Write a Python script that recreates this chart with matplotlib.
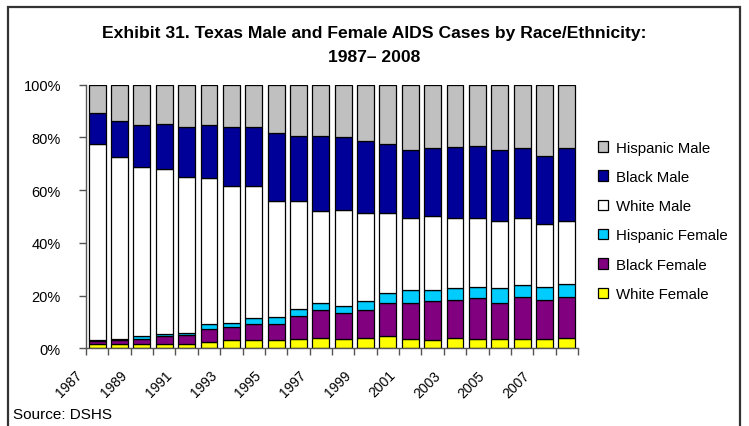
import numpy as np
import matplotlib
matplotlib.use('Agg')
import matplotlib.pyplot as plt
import matplotlib.transforms as mtransforms
from matplotlib.patches import Rectangle

plt.rcParams['font.family'] = ['Liberation Sans', 'DejaVu Sans']

# years 1987-2008
years = list(range(1987, 2009))

# percent of cases per year
white_female = [1.5, 1.5, 1.6, 1.6, 1.6, 2.4, 3.0, 3.0, 3.0, 3.5, 4.0,
                3.5, 4.0, 4.5, 3.5, 3.0, 4.0, 3.5, 3.5, 3.5, 3.5, 4.0]
black_female = [1.2, 1.5, 2.0, 3.2, 3.5, 4.9, 5.2, 6.3, 6.3, 8.6, 10.4,
                9.8, 10.5, 12.6, 13.6, 14.8, 14.4, 15.4, 13.6, 15.9, 14.9, 15.4]
hispanic_female = [0.4, 0.5, 1.0, 0.6, 0.7, 1.8, 1.4, 2.3, 2.4, 2.9, 2.8,
                   2.9, 3.3, 4.0, 4.9, 4.2, 4.4, 4.4, 5.6, 4.7, 4.8, 5.1]
white_male = [74.4, 68.9, 64.0, 62.7, 59.0, 55.6, 51.9, 49.9, 44.2, 40.9, 34.9,
              36.4, 33.7, 30.4, 27.5, 28.1, 26.7, 26.2, 25.6, 25.4, 24.1, 23.8]
black_male = [11.6, 13.9, 16.0, 17.0, 19.2, 19.9, 22.5, 22.5, 25.6, 24.8, 28.6,
              27.5, 27.2, 26.0, 25.9, 25.8, 26.9, 27.4, 27.1, 26.4, 25.8, 27.6]
hispanic_male = [10.9, 13.7, 15.4, 14.9, 16.0, 15.4, 16.0, 16.0, 18.5, 19.3, 19.3,
                 19.9, 21.3, 22.5, 24.6, 24.1, 23.6, 23.1, 24.6, 24.1, 26.9, 24.1]

series = [
    ('White Female', white_female, '#FFFF00'),
    ('Black Female', black_female, '#800080'),
    ('Hispanic Female', hispanic_female, '#00CCFF'),
    ('White Male', white_male, '#FFFFFF'),
    ('Black Male', black_male, '#000099'),
    ('Hispanic Male', hispanic_male, '#C0C0C0'),
]

fig = plt.figure(figsize=(7.49, 4.27), dpi=100)
ax = fig.add_axes([86 / 749, 1 - 349.3 / 427, (578 - 86) / 749, (349.3 - 85.7) / 427])

x = np.arange(len(years))
# normalise to 100 %
totals = np.sum([s[1] for s in series], axis=0)
bottom = np.zeros(len(years))
handles = []
for name, vals, col in series:
    v = np.array(vals) / totals * 100
    h = ax.bar(x, v, 0.76, bottom=bottom, color=col, edgecolor='black',
               linewidth=0.9, label=name)
    handles.append(h)
    bottom += v

ax.set_xlim(-0.5, len(years) - 0.5)
ax.set_ylim(0, 100)
ax.set_yticks(np.arange(0, 101, 20))
ax.set_yticklabels([f'{t}%' for t in range(0, 101, 20)], fontsize=10.5)
ax.tick_params(axis='y', length=5, pad=13, color='#555555', width=1)

# labels on every other year, tick marks between categories
ax.set_xticks(x[::2])
ax.set_xticklabels([str(y) for y in years[::2]], rotation=45, ha='right',
                   va='top', fontsize=10)
ax.set_xticks(np.arange(-0.5, len(years), 1), minor=True)
ax.tick_params(axis='x', which='major', length=0, pad=14)
ax.tick_params(axis='x', which='minor', length=5, color='#555555', width=1)
shift = mtransforms.ScaledTranslation(-12 / 100, 0, fig.dpi_scale_trans)
for lbl in ax.get_xticklabels():
    lbl.set_transform(lbl.get_transform() + shift)

for s in ['top', 'right']:
    ax.spines[s].set_visible(False)
for s in ['left', 'bottom']:
    ax.spines[s].set_color('#555555')
    ax.spines[s].set_linewidth(1)

fig.text(0.5, 1 - 38 / 427,
         'Exhibit 31. Texas Male and Female AIDS Cases by Race/Ethnicity:',
         ha='center', va='baseline', fontsize=12.6, fontweight='bold')
fig.text(0.5, 1 - 62 / 427, '1987\u2013 2008',
         ha='center', va='baseline', fontsize=12.6, fontweight='bold')

fig.text(13 / 749, 1 - 419 / 427, 'Source: DSHS', ha='left', va='baseline',
         fontsize=11)

fig.legend(handles[::-1], [s[0] for s in series][::-1], loc='upper left',
           bbox_to_anchor=(590 / 749, 1 - 134 / 427), frameon=False,
           fontsize=10.8, handlelength=0.7, handleheight=0.7,
           handletextpad=0.55, labelspacing=1.02, borderpad=0)

# outer frame
fig.patches.append(Rectangle((8 / 749, -0.1), (740 - 8) / 749, 1.1 - 8 / 427,
                             transform=fig.transFigure, fill=False,
                             edgecolor='#333333', linewidth=1.6))

fig.savefig('out.png', dpi=100)
